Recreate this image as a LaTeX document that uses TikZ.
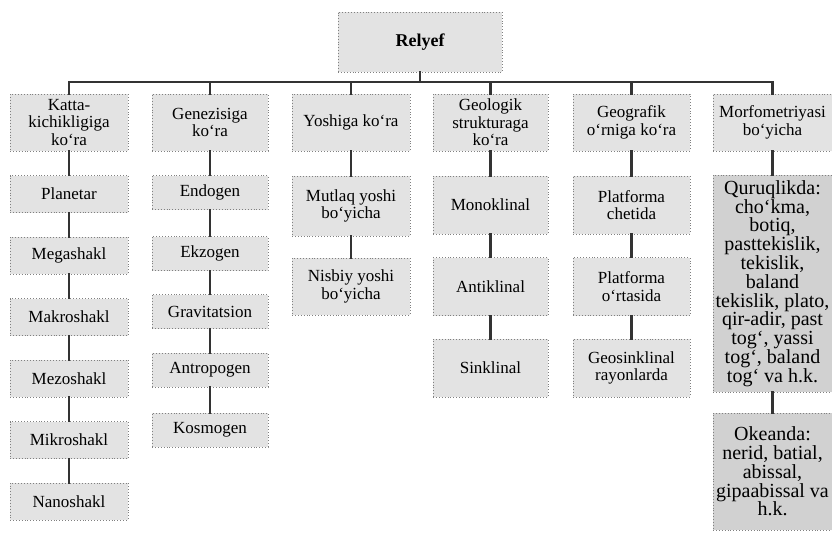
\documentclass[tikz,border=0pt]{standalone}
\usepackage{fontspec}
\setmainfont{Liberation Serif}

\tikzset{
  box/.style={draw=black!50, dotted, line width=0.9pt, fill=black!11, align=center,
    inner sep=0pt, font=\fontsize{17}{17.5}\selectfont},
  headbox/.style={box, minimum height=57},
  bigbox/.style={box, fill=black!18, minimum width=119, font=\fontsize{20}{18.8}\selectfont},
  link/.style={draw=black!80, line width=2.6pt, line cap=rect},
}

\begin{document}
\begin{tikzpicture}[x=1pt,y=-1pt]
  \useasboundingbox (0,0) rectangle (832,533);

  % root
  \node[box, minimum width=164, minimum height=60,
        font=\fontsize{18}{20}\selectfont\bfseries] (rel) at (420,42) {Relyef};

  % headers
  \node[headbox, minimum width=118] (kat)  at (69,122.5)    {Katta-\\kichikligiga\\ko‘ra};
  \node[headbox, minimum width=116] (gen)  at (210,122.5)   {Genezisiga\\ko‘ra};
  \node[headbox, minimum width=118] (yosh) at (351,122.5)   {Yoshiga ko‘ra};
  \node[headbox, minimum width=115] (geol) at (490.5,122.5) {Geologik\\strukturaga\\ko‘ra};
  \node[headbox, minimum width=117] (geog) at (631.5,122.5) {Geografik\\o‘rniga ko‘ra};
  \node[headbox, minimum width=119] (morf) at (772.5,122.5) {Morfometriyasi\\bo‘yicha};

  % bar
  \coordinate (barL) at (69,82);
  \coordinate (barR) at (772.5,82);
  \draw[link] (rel) -- (rel |- barL);
  \draw[link] (barL) -- (barR);
  \draw[link] (kat) -- (kat |- barL);
  \draw[link] (gen) -- (gen |- barL);
  \draw[link] (yosh) -- (yosh |- barL);
  \draw[link] (geol) -- (geol |- barL);
  \draw[link] (geog) -- (geog |- barL);
  \draw[link] (morf) -- (morf |- barL);

  % size
  \node[box, minimum width=118, minimum height=37] (planet) at (69,194)   {Planetar};
  \node[box, minimum width=118, minimum height=37] (mega)   at (69,255.5) {Megashakl};
  \node[box, minimum width=118, minimum height=37] (makro)  at (69,317)   {Makroshakl};
  \node[box, minimum width=118, minimum height=37] (mezo)   at (69,378.5) {Mezoshakl};
  \node[box, minimum width=118, minimum height=37] (mikro)  at (69,440)   {Mikroshakl};
  \node[box, minimum width=118, minimum height=37] (nano)   at (69,501.5) {Nanoshakl};
  \draw[link] (kat) -- (planet);
  \draw[link] (planet) -- (mega);
  \draw[link] (mega) -- (makro);
  \draw[link] (makro) -- (mezo);
  \draw[link] (mezo) -- (mikro);
  \draw[link] (mikro) -- (nano);

  % genesis
  \node[box, minimum width=116, minimum height=34] (endo)   at (210,192.5) {Endogen};
  \node[box, minimum width=116, minimum height=34] (ekzo)   at (210,253.5) {Ekzogen};
  \node[box, minimum width=116, minimum height=34] (grav)   at (210,311.5) {Gravitatsion};
  \node[box, minimum width=116, minimum height=34] (antro)  at (210,370)   {Antropogen};
  \node[box, minimum width=116, minimum height=34] (kosmo)  at (210,430)   {Kosmogen};
  \draw[link] (gen) -- (endo);
  \draw[link] (endo) -- (ekzo);
  \draw[link] (ekzo) -- (grav);
  \draw[link] (grav) -- (antro);
  \draw[link] (antro) -- (kosmo);

  % age
  \node[box, minimum width=118, minimum height=60] (mutlaq) at (351,206)   {Mutlaq yoshi\\bo‘yicha};
  \node[box, minimum width=118, minimum height=57] (nisbiy) at (351,286.5) {Nisbiy yoshi\\bo‘yicha};
  \draw[link] (yosh) -- (mutlaq);
  \draw[link] (mutlaq) -- (nisbiy);

  % structure
  \node[box, minimum width=115, minimum height=58] (mono)  at (490.5,205)   {Monoklinal};
  \node[box, minimum width=115, minimum height=58] (anti)  at (490.5,286.5) {Antiklinal};
  \node[box, minimum width=115, minimum height=58] (sinkl) at (490.5,368)   {Sinklinal};
  \draw[link] (geol) -- (mono);
  \draw[link] (mono) -- (anti);
  \draw[link] (anti) -- (sinkl);

  % position
  \node[box, minimum width=117, minimum height=58] (chet)  at (631.5,205)   {Platforma\\chetida};
  \node[box, minimum width=117, minimum height=58] (orta)  at (631.5,286.5) {Platforma\\o‘rtasida};
  \node[box, minimum width=117, minimum height=58] (geos)  at (631.5,368)   {Geosinklinal\\rayonlarda};
  \draw[link] (geog) -- (chet);
  \draw[link] (chet) -- (orta);
  \draw[link] (orta) -- (geos);

  % morphometry
  \node[bigbox, minimum height=217] (quruq) at (772.5,283.5)
    {Quruqlikda:\\cho‘kma,\\botiq,\\pasttekislik,\\tekislik,\\baland\\tekislik, plato,\\qir-adir, past\\tog‘, yassi\\tog‘, baland\\tog‘ va h.k.};
  \node[bigbox, minimum height=117] (okean) at (772.5,471.5)
    {Okeanda:\\nerid, batial,\\abissal,\\gipaabissal va\\h.k.};
  \draw[link] (morf) -- (quruq);
  \draw[link] (quruq) -- (okean);
\end{tikzpicture}
\end{document}
